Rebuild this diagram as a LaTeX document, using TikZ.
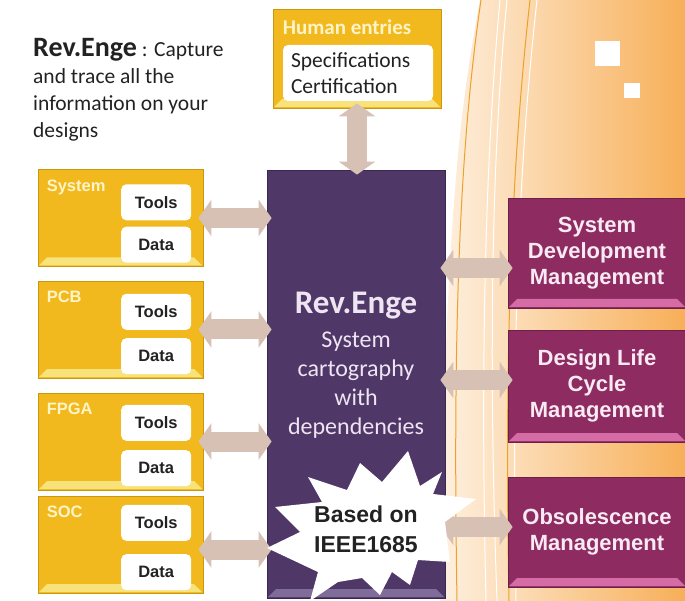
\documentclass[tikz,border=0pt]{standalone}
\usepackage{fontspec}
\setmainfont{Carlito}
\newfontfamily\arialfont{Liberation Sans}
\usetikzlibrary{arrows.meta,positioning}

\definecolor{gold}{HTML}{F1B91D}
\definecolor{golddark}{HTML}{C99710}
\definecolor{goldlight}{HTML}{F8E27C}
\definecolor{goldtext}{HTML}{FFF4C8}
\definecolor{plum}{HTML}{4F3767}
\definecolor{plumdark}{HTML}{3A2850}
\definecolor{plumlight}{HTML}{806C98}
\definecolor{plumtext}{HTML}{EFE4F2}
\definecolor{berry}{HTML}{8E2B61}
\definecolor{berrydark}{HTML}{6E1E4A}
\definecolor{berrylight}{HTML}{D56CA6}
\definecolor{berrytext}{HTML}{F8EAF3}
\definecolor{taupe}{HTML}{D6C1B4}
\definecolor{peach}{HTML}{FEF0E0}
\definecolor{apricot}{HTML}{F7AF58}
\definecolor{amber}{HTML}{EBA12A}
\definecolor{ink}{HTML}{222222}

\tikzset{
  bevel/.style={path picture={
    \fill[#1] ([shift={(1pt,1pt)}]path picture bounding box.south west) -- ++(8pt,8pt)
      -- ([shift={(-9pt,9pt)}]path picture bounding box.south east)
      -- ([shift={(-1pt,1pt)}]path picture bounding box.south east) -- cycle;}},
  goldbox/.style={fill=gold, draw=golddark, line width=0.8pt, bevel=goldlight,
    minimum width=165pt, minimum height=97pt},
  boxlabel/.style={anchor=base west, inner sep=0pt, text=goldtext,
    font=\arialfont\bfseries\fontsize{16.5}{18}\selectfont},
  itembox/.style={fill=white, rounded corners=5pt, minimum width=70pt, minimum height=36pt,
    text=ink, font=\arialfont\bfseries\fontsize{16.5}{18}\selectfont},
  berrybox/.style={fill=berry, draw=berrydark, line width=0.8pt, bevel=berrylight,
    minimum width=178pt, align=center, text=berrytext,
    font=\arialfont\bfseries\fontsize{22}{26}\selectfont},
  fatarrow/.style={draw=taupe, line width=20pt,
    {Triangle[length=13pt,width=36pt]}-{Triangle[length=13pt,width=36pt]},
    shorten <=-5pt, shorten >=-5pt}
}

\begin{document}
\begin{tikzpicture}[x=1pt, y=-1pt]
  \useasboundingbox (0,0) rectangle (685,601);

  % background
  \shade[left color=peach, right color=apricot]
    (480,0) .. controls (462,100) and (445,200) .. (440,601) -- (685,601) -- (685,0) -- cycle;
  \draw[amber, line width=1pt] (481,0) .. controls (462,130) and (452,300) .. (457,601);
  \draw[white, line width=1pt] (500,0) .. controls (486,150) and (480,350) .. (486,601);
  \draw[white, line width=1pt] (507,0) .. controls (492,150) and (488,350) .. (497,601);
  \draw[amber, line width=1pt] (530,0) .. controls (512,160) and (504,350) .. (509,601);
  \draw[white, line width=1pt] (537,0) .. controls (519,160) and (511,350) .. (516,601);
  \fill[white] (595,41) rectangle (620,66);
  \fill[white] (624,83) rectangle (640,98);

  \node[anchor=north west, inner sep=0pt, align=left, text=ink,
        font=\fontsize{21.5}{27}\selectfont] (intro) at (33,38)
    {{\fontsize{28}{30}\selectfont\bfseries Rev.Enge} : Capture\\and trace all the\\information on your\\designs};

  % human entries
  \node[goldbox, minimum width=168pt, minimum height=99pt] (human) at (357,58.5) {};
  \node[anchor=base west, inner sep=0pt, text=goldtext,
        font=\bfseries\fontsize{21}{24}\selectfont] (humanlbl) at ([shift={(10pt,-26pt)}]human.north west) {Human entries};
  \node[itembox, minimum width=150pt, minimum height=56pt, text width=134pt, align=left,
        font=\fontsize{21.5}{26}\selectfont] (specs) at (358,73) {Specifications\\Certification};

  % core
  \node[draw=plumdark, fill=plum, line width=0.8pt, bevel=plumlight,
        minimum width=178pt, minimum height=428pt] (core) at (356,384) {};
  \node[anchor=north, inner sep=0pt, align=center, text=plumtext,
        font=\fontsize{24}{29}\selectfont] (corelbl) at ([yshift=-122pt]core.north)
    {{\fontsize{33}{36}\selectfont\bfseries Rev.Enge}\\[5pt]System\\cartography\\with\\dependencies};

  % left side
  \node[goldbox] (sys) at (120.5,218) {};
  \node[boxlabel] (syslbl) at ([shift={(9pt,-22pt)}]sys.north west) {System};
  \node[itembox, anchor=north east] (systools) at ([shift={(-12pt,-15pt)}]sys.north east) {Tools};
  \node[itembox, anchor=south east] (sysdata) at ([shift={(-12pt,4pt)}]sys.south east) {Data};

  \node[goldbox] (pcb) at (120.5,329.5) {};
  \node[boxlabel] (pcblbl) at ([shift={(9pt,-22pt)}]pcb.north west) {PCB};
  \node[itembox, anchor=north east] (pcbtools) at ([shift={(-12pt,-13pt)}]pcb.north east) {Tools};
  \node[itembox, anchor=south east] (pcbdata) at ([shift={(-12pt,4pt)}]pcb.south east) {Data};

  \node[goldbox] (fpga) at (120.5,441.5) {};
  \node[boxlabel] (fpgalbl) at ([shift={(9pt,-22pt)}]fpga.north west) {FPGA};
  \node[itembox, anchor=north east] (fpgatools) at ([shift={(-12pt,-12pt)}]fpga.north east) {Tools};
  \node[itembox, anchor=south east] (fpgadata) at ([shift={(-12pt,4pt)}]fpga.south east) {Data};

  \node[goldbox] (soc) at (120.5,544.5) {};
  \node[boxlabel] (soclbl) at ([shift={(9pt,-22pt)}]soc.north west) {SOC};
  \node[itembox, anchor=north east] (soctools) at ([shift={(-12pt,-9pt)}]soc.north east) {Tools};
  \node[itembox, anchor=south east] (socdata) at ([shift={(-12pt,3pt)}]soc.south east) {Data};

  % right side
  \node[berrybox, minimum height=110pt] (sdm) at (597,253) {System\\Development\\Management};
  \node[berrybox, minimum height=112pt] (dlc) at (597,386) {Design Life\\Cycle\\Management};
  \node[berrybox, minimum height=110pt] (obs) at (597,532) {Obsolescence\\Management};

  % arrows
  \draw[fatarrow] (human.south) -- (human.south |- core.north);
  \draw[fatarrow] (sys.east) -- (core.west |- sys.east);
  \draw[fatarrow] (pcb.east) -- (core.west |- pcb.east);
  \draw[fatarrow] (fpga.east) -- (core.west |- fpga.east);
  \draw[fatarrow] ([yshift=-5pt]soc.east) -- ([yshift=-5pt]core.west |- soc.east);
  \draw[fatarrow] ([yshift=-15pt]core.east |- sdm.west) -- ([yshift=-15pt]sdm.west);
  \draw[fatarrow] ([yshift=6pt]core.east |- dlc.west) -- ([yshift=6pt]dlc.west);
  \draw[fatarrow] ([yshift=5pt]core.east |- obs.west) -- ([yshift=5pt]obs.west);

  % burst
  \fill[white] (408,451) -- (420,486) -- (442,472) -- (433,494) -- (476,499) -- (445,522)
    -- (450,562) -- (418,560) -- (410,585) -- (392,572) -- (380,595) -- (362,578)
    -- (338,582) -- (310,601) -- (318,572) -- (267,548) -- (300,532) -- (275,507)
    -- (322,502) -- (308,477) -- (347,490) -- (360,463) -- (382,482) -- cycle;
  \node[align=center, text=ink, font=\arialfont\bfseries\fontsize{23}{30}\selectfont] (ieee) at (366,529)
    {Based on\\IEEE1685};
\end{tikzpicture}
\end{document}
